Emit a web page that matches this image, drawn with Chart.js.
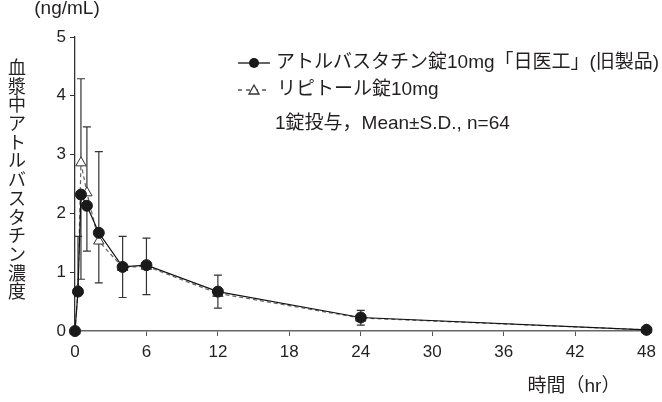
<!DOCTYPE html>
<html>
<head>
<meta charset="utf-8">
<script src="https://cdn.jsdelivr.net/npm/chart.js@4"></script>
<style>
  html, body { margin: 0; padding: 0; background: #fff; }
  #wrap { width: 662px; height: 402px; }
</style>
</head>
<body>
<div id="wrap"><canvas id="pkChart" width="662" height="402"></canvas></div>
<script>
// sampling times (hr)
const times = [0, 0.25, 0.5, 1, 2, 4, 6, 12, 24, 48];
// mean plasma concentration (ng/mL)
const genericMean = [0, 0.67, 2.32, 2.13, 1.67, 1.09, 1.12, 0.67, 0.23, 0.02];
const lipitorMean = [0, 0.70, 2.86, 2.35, 1.53, 1.08, 1.10, 0.64, 0.22, 0.02];
// S.D. as drawn: lipitor upper bars, generic lower bars
const lipitorSdUp = [0, 0.91, 1.43, 1.12, 1.52, 0.53, 0.48, 0.31, 0.13, 0];
const genericSdDown = [0, 0, 1.44, 0.77, 0.85, 0.52, 0.50, 0.28, 0.13, 0];
const xTicks = [0, 6, 12, 18, 24, 30, 36, 42, 48];
const yTicks = [0, 1, 2, 3, 4, 5];

const labels = ['アトルバスタチン錠10mg「日医工」(旧製品)', 'リピトール錠10mg'];
const yTitle = '血漿中アトルバスタチン濃度';

const textColor = '#231f20';
const font = '"Liberation Sans", "Noto Sans CJK JP", sans-serif';

function toPoints(ys) {
    return times.map((t, i) => ({ x: t, y: ys[i] }));
}

// error bars (drawn before the points)
const errorBars = {
    id: 'errorBars',
    beforeDatasetsDraw(chart) {
        const ctx = chart.ctx;
        const xs = chart.scales.x, ys = chart.scales.y;
        ctx.save();
        ctx.strokeStyle = '#333';
        ctx.lineWidth = 1.2;
        const bar = (t, from, to) => {
            if (from === to) return;
            const px = xs.getPixelForValue(t);
            const y1 = ys.getPixelForValue(from);
            const y2 = ys.getPixelForValue(to);
            ctx.beginPath();
            ctx.moveTo(px, y1);
            ctx.lineTo(px, y2);
            ctx.moveTo(px - 4, y2);
            ctx.lineTo(px + 4, y2);
            ctx.stroke();
        };
        times.forEach((t, i) => {
            bar(t, lipitorMean[i], lipitorMean[i] + lipitorSdUp[i]);
            bar(t, genericMean[i], genericMean[i] - genericSdDown[i]);
        });
        ctx.restore();
    }
};

// legend, note and axis titles
const annotations = {
    id: 'annotations',
    afterDraw(chart) {
        const ctx = chart.ctx;
        ctx.save();
        ctx.fillStyle = textColor;
        ctx.textBaseline = 'middle';
        ctx.font = '19px ' + font;

        // legend row 1: solid line + filled circle
        ctx.strokeStyle = '#111';
        ctx.lineWidth = 1.3;
        ctx.beginPath();
        ctx.moveTo(238, 63); ctx.lineTo(270, 63);
        ctx.stroke();
        ctx.fillStyle = '#1a1a1a';
        ctx.beginPath();
        ctx.arc(254, 63, 5, 0, Math.PI * 2);
        ctx.fill();
        ctx.fillStyle = textColor;
        ctx.textAlign = 'left';
        ctx.fillText(labels[0], 276, 63);

        // legend row 2: dashed line + open triangle
        ctx.strokeStyle = '#555';
        ctx.setLineDash([4, 4]);
        ctx.beginPath();
        ctx.moveTo(238, 90); ctx.lineTo(270, 90);
        ctx.stroke();
        ctx.setLineDash([]);
        ctx.fillStyle = '#fff';
        ctx.strokeStyle = '#333';
        ctx.beginPath();
        ctx.moveTo(254, 85); ctx.lineTo(259, 94); ctx.lineTo(249, 94); ctx.closePath();
        ctx.fill(); ctx.stroke();
        ctx.fillStyle = textColor;
        ctx.fillText(labels[1], 277, 90);

        ctx.fillText('1錠投与，Mean±S.D., n=64', 275, 124);

        // unit at top
        ctx.textAlign = 'center';
        ctx.fillText('(ng/mL)', 67, 9);

        // x title
        ctx.fillText('時間（hr）', 574, 387);

        // vertical y title
        ctx.font = '18px ' + font;
        const chars = Array.from(yTitle);
        chars.forEach((c, i) => {
            ctx.fillText(c, 17, 69 + i * 18.7);
        });
        ctx.restore();
    }
};

const ctx = document.getElementById('pkChart').getContext('2d');
new Chart(ctx, {
    type: 'line',
    data: {
        datasets: [
            {
                label: labels[0],
                data: toPoints(genericMean),
                borderColor: '#111',
                borderWidth: 1.2,
                pointStyle: 'circle',
                pointRadius: 5.5,
                pointBackgroundColor: '#1a1a1a',
                pointBorderColor: '#1a1a1a',
                pointBorderWidth: 1,
                tension: 0,
                clip: false
            },
            {
                label: labels[1],
                data: toPoints(lipitorMean),
                borderColor: '#666',
                borderWidth: 1.2,
                borderDash: [4, 3],
                pointStyle: 'triangle',
                pointRadius: 6,
                pointBackgroundColor: '#fff',
                pointBorderColor: '#333',
                pointBorderWidth: 1,
                tension: 0,
                clip: false
            }
        ]
    },
    options: {
        responsive: false,
        animation: false,
        devicePixelRatio: 1,
        layout: { padding: { left: 0, right: 14, top: 37, bottom: 0 } },
        plugins: {
            legend: { display: false },
            tooltip: { enabled: false }
        },
        scales: {
            x: {
                type: 'linear',
                min: 0,
                max: 48,
                afterFit: s => { s.height = 71; },
                afterBuildTicks: s => { s.ticks = xTicks.map(v => ({ value: v })); },
                grid: {
                    display: true,
                    drawOnChartArea: false,
                    drawTicks: true,
                    tickLength: 5,
                    color: '#555'
                },
                border: { color: '#666', width: 1.5 },
                ticks: {
                    color: textColor,
                    font: { family: font, size: 17 },
                    padding: 6,
                    maxRotation: 0
                }
            },
            y: {
                min: 0,
                max: 5,
                afterFit: s => { s.width = 75; },
                afterBuildTicks: s => { s.ticks = yTicks.map(v => ({ value: v })); },
                grid: {
                    display: true,
                    drawOnChartArea: false,
                    drawTicks: true,
                    tickLength: 5,
                    color: '#333'
                },
                border: { color: '#333', width: 1.3 },
                ticks: {
                    color: textColor,
                    font: { family: font, size: 17 },
                    padding: 4
                }
            }
        }
    },
    plugins: [errorBars, annotations]
});
</script>
</body>
</html>
